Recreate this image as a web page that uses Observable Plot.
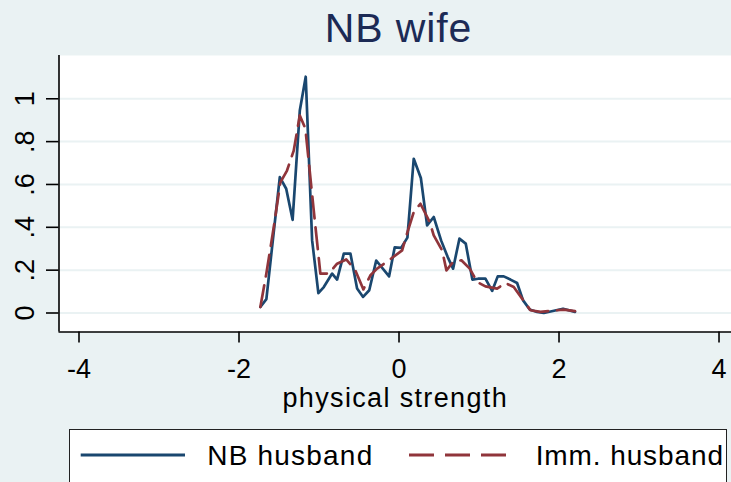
<!DOCTYPE html>
<html>
<head>
<meta charset="utf-8">
<script src="https://cdn.jsdelivr.net/npm/d3@7"></script>
<script src="https://cdn.jsdelivr.net/npm/@observablehq/plot@0.6"></script>
<style>
  html, body { margin: 0; padding: 0; background: #eaf2f3; }
  #wrap { position: relative; width: 731px; height: 482px; overflow: hidden; background: #eaf2f3;
          font-family: "Liberation Sans", Arial, Helvetica, sans-serif; }
  #title { position: absolute; left: 0; top: 8px; width: 797px; text-align: center;
           font-size: 41px; line-height: 41px; color: #1c2a55; letter-spacing: 0.9px; }
  #chart { position: absolute; left: 0; top: 0; }
  #legend { position: absolute; left: 69px; top: 429px; width: 658px; height: 70px;
            box-sizing: border-box; border: 1.6px solid #222; background: #fff; }
</style>
</head>
<body>
<div id="wrap">
  <div id="chart"></div>
  <div id="title">NB wife</div>
  <div id="legend"></div>
</div>
<script>
// ---- data ----
const titleText = "NB wife";
const xLabel = "physical strength";
const seriesNames = ["NB husband", "Imm. husband"];
const seriesColors = ["#1a476f", "#90353b"];

const xTicks = [-4, -2, 0, 2, 4];
const xTickLabels = ["-4", "-2", "0", "2", "4"];
const yTicks = [0, 0.2, 0.4, 0.6, 0.8, 1];
const yTickLabels = ["0", ".2", ".4", ".6", ".8", "1"];

const nbX = [-1.733, -1.658, -1.49, -1.41, -1.33, -1.24, -1.166, -1.086, -1.008, -0.94, -0.836, -0.774, -0.69, -0.607, -0.524, -0.449, -0.372, -0.285, -0.124, -0.054, 0.026, 0.105, 0.184, 0.273, 0.351, 0.434, 0.526, 0.609, 0.676, 0.755, 0.834, 0.917, 0.989, 1.08, 1.164, 1.234, 1.309, 1.393, 1.476, 1.551, 1.634, 1.726, 1.81, 2.05, 2.2];
const nbY = [0.028, 0.065, 0.634, 0.58, 0.435, 0.945, 1.103, 0.339, 0.093, 0.121, 0.184, 0.156, 0.277, 0.277, 0.114, 0.075, 0.106, 0.245, 0.171, 0.306, 0.304, 0.352, 0.72, 0.63, 0.409, 0.448, 0.339, 0.261, 0.207, 0.347, 0.324, 0.156, 0.16, 0.16, 0.103, 0.171, 0.171, 0.156, 0.14, 0.059, 0.016, 0.005, 0, 0.02, 0.005];

const immX = [-1.733, -1.658, -1.566, -1.483, -1.4, -1.316, -1.24, -1.17, -1.066, -0.983, -0.879, -0.774, -0.66, -0.55, -0.445, -0.357, -0.274, -0.149, 0.039, 0.1, 0.184, 0.268, 0.384, 0.434, 0.539, 0.593, 0.676, 0.78, 0.884, 0.976, 1.08, 1.226, 1.33, 1.434, 1.539, 1.643, 1.768, 2.06, 2.2];
const immY = [0.028, 0.184, 0.4, 0.61, 0.665, 0.758, 0.922, 0.86, 0.479, 0.184, 0.184, 0.23, 0.25, 0.203, 0.11, 0.176, 0.207, 0.24, 0.292, 0.37, 0.471, 0.51, 0.424, 0.362, 0.292, 0.199, 0.238, 0.246, 0.207, 0.145, 0.124, 0.114, 0.14, 0.121, 0.067, 0.013, 0.005, 0.016, 0.009];

const xDomain = [-4.25, 4.156];
const yDomain = [-0.0887, 1.202];

// ---- build tables ----
const nbData = nbX.map((x, i) => ({x, y: nbY[i]}));
const immData = immX.map((x, i) => ({x, y: immY[i]}));
const yTickTable = yTicks.map((v, i) => ({v, label: yTickLabels[i]}));

const font = "'Liberation Sans', Arial, Helvetica, sans-serif";

const chart = Plot.plot({
  width: 731,
  height: 420,
  marginTop: 55,
  marginBottom: 88.5,
  marginLeft: 58.5,
  marginRight: 0,
  style: {background: "transparent", fontFamily: font, fontSize: "27px", color: "black", overflow: "visible"},
  x: {domain: xDomain},
  y: {domain: yDomain},
  marks: [
    Plot.frame({fill: "white", stroke: null}),
    Plot.gridY(yTicks, {stroke: "#eaf2f3", strokeOpacity: 1, strokeWidth: 2}),
    Plot.line(nbData, {x: "x", y: "y", stroke: seriesColors[0], strokeWidth: 2.7, strokeLinejoin: "round"}),
    Plot.line(immData, {x: "x", y: "y", stroke: seriesColors[1], strokeWidth: 2.7, strokeDasharray: "22,9", strokeLinejoin: "round"}),
    Plot.ruleX([xDomain[0]], {stroke: "black", strokeWidth: 1.6}),
    Plot.ruleY([yDomain[0]], {stroke: "black", strokeWidth: 1.6}),
    Plot.axisX({
      ticks: xTicks,
      tickFormat: (d) => xTickLabels[xTicks.indexOf(d)],
      tickSize: 11,
      tickPadding: 15.5,
      strokeWidth: 1.6,
      fontSize: 27,
      label: xLabel,
      labelAnchor: "center",
      labelOffset: 74.5,
      labelArrow: false
    }),
    Plot.axisY({
      ticks: yTicks,
      tickSize: 12.5,
      strokeWidth: 1.6,
      tickFormat: () => "",
      label: null
    }),
    Plot.text(yTickTable, {
      y: "v",
      text: "label",
      frameAnchor: "left",
      dx: -25,
      rotate: -90,
      lineAnchor: "bottom",
      textAnchor: "middle",
      fontSize: 27,
      fill: "black"
    })
  ]
});
// widen the axis title slightly to match the reference's letter width
d3.select(chart).selectAll("text").filter(function () { return this.textContent === xLabel; })
  .style("letter-spacing", "1.35px");
document.getElementById("chart").appendChild(chart);
document.getElementById("title").textContent = titleText;

// ---- legend ----
const leg = d3.select("#legend").append("svg")
  .attr("width", 658).attr("height", 70)
  .style("position", "absolute").style("left", "-1.6px").style("top", "-1.6px")
  .style("overflow", "visible");
const items = [
  {name: seriesNames[0], color: seriesColors[0], dash: null, x0: 12.7, x1: 117, tx: 139.3, ls: 1.2},
  {name: seriesNames[1], color: seriesColors[1], dash: "25,11", x0: 341, x1: 439.3, tx: 467.7, ls: 0.9}
];
for (const it of items) {
  leg.append("line").attr("x1", it.x0).attr("x2", it.x1).attr("y1", 27).attr("y2", 27)
    .attr("stroke", it.color).attr("stroke-width", 2.8)
    .attr("stroke-dasharray", it.dash);
  leg.append("text").attr("x", it.tx).attr("y", 37)
    .attr("font-family", font).attr("font-size", 28).attr("fill", "black")
    .style("letter-spacing", it.ls + "px")
    .text(it.name);
}
</script>
</body>
</html>
